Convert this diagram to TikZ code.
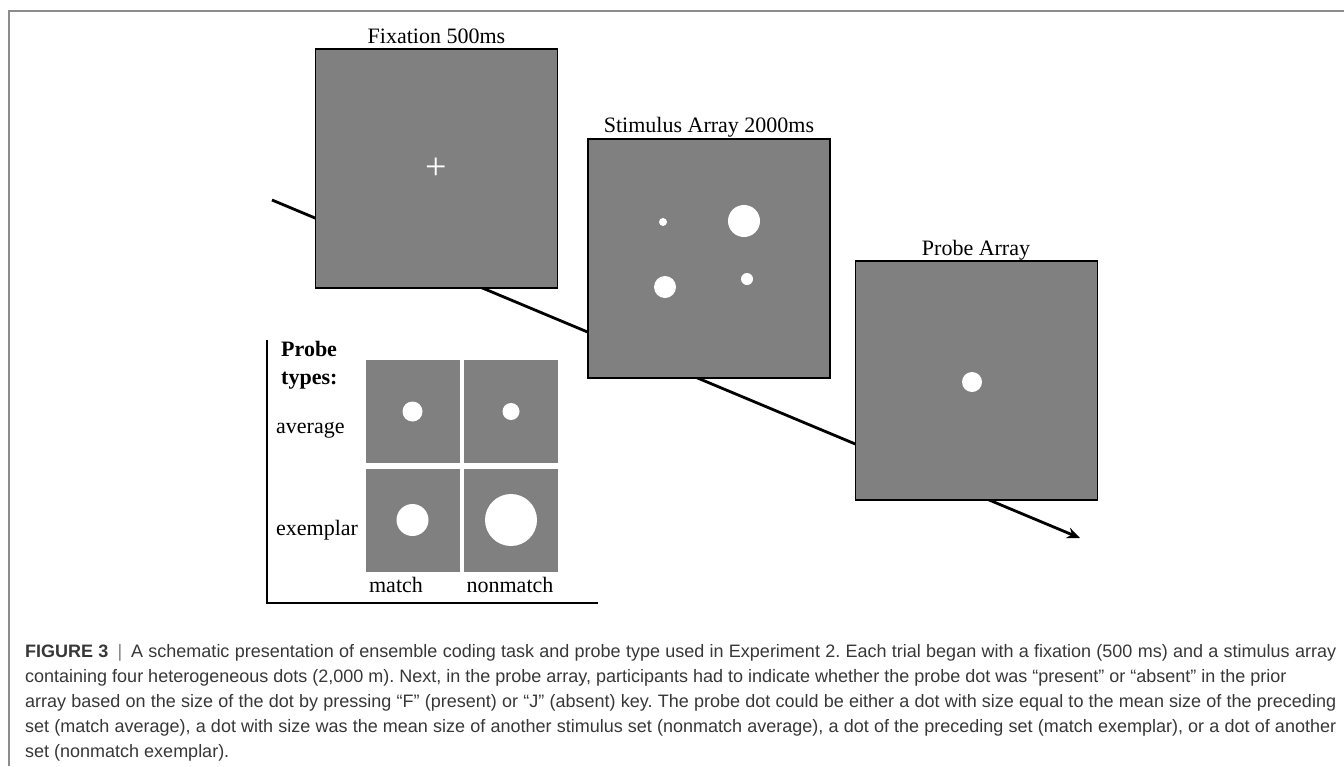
\documentclass[tikz,border=0pt]{standalone}
\usepackage{fontspec}
\setmainfont{Liberation Serif}
\newfontfamily\capfont{Liberation Sans}
\usepackage{tikz}
\usetikzlibrary{arrows.meta,positioning}
\usepackage{xcolor}
\definecolor{cScreen}{RGB}{128,128,128}
\definecolor{cFrame}{RGB}{140,140,140}
\definecolor{cCaption}{RGB}{55,55,55}
\hbadness=10000
\frenchspacing

\begin{document}
\begin{tikzpicture}[x=1pt,y=-1pt,
    screen/.style={rectangle,draw=black,line width=1.2pt,fill=cScreen,minimum width=242pt,minimum height=239pt,inner sep=0pt},
    probebox/.style={rectangle,fill=cScreen,minimum width=94pt,minimum height=103pt,inner sep=0pt},
    disc/.style={circle,fill=white,inner sep=0pt,minimum size=#1},
    lbl/.style={font=\fontsize{22}{28}\selectfont,inner sep=0pt},
    >=Stealth
  ]
  \useasboundingbox (0,0) rectangle (1344,766);
  \draw[cFrame,line width=1.2pt] (9,766) -- (9,11) -- (1344,11);

  % time line behind the screens
  \coordinate (tstart) at (272,200);
  \coordinate (tend) at (1080,538);
  \draw[-{Stealth[length=13pt,width=11pt]},line width=2.8pt] (tstart) -- (tend);

  \node[screen] (fix) at (436.5,168.5) {};
  \node[lbl,anchor=base] (fixtitle) at (436.5,43) {Fixation 500ms};
  \node[font=\fontsize{38}{38}\selectfont,text=white,inner sep=0pt] (fixcross) at (fix.center) {+};

  \node[screen] (stim) at (709,258.5) {};
  \node[lbl,anchor=base] (stimtitle) at (709,132) {Stimulus Array 2000ms};
  \node[disc=8pt]  (s1) at (663,222) {};
  \node[disc=32pt] (s2) at (744,221) {};
  \node[disc=22pt] (s3) at (665,287) {};
  \node[disc=12pt] (s4) at (747,279) {};

  \node[screen] (probe) at (976.5,380.5) {};
  \node[lbl,anchor=base] (probetitle) at (976,255) {Probe Array};
  \node[disc=20pt] (pdot) at (972,382) {};

  % probe types panel
  \coordinate (axtop) at (267,340);
  \coordinate (axcorner) at (267,603);
  \coordinate (axend) at (598,603);
  \draw[line width=2.2pt] (axtop) -- (axcorner) -- (axend);
  \node[lbl,font=\fontsize{22}{28}\selectfont\bfseries,align=left,anchor=north west] (ptitle) at (281,341) {Probe\\types:};

  \node[probebox] (avgm) at (412.5,411.5) {};
  \node[probebox] (avgn) at (511,411.5) {};
  \node[probebox] (exm)  at (412.5,520) {};
  \node[probebox] (exn)  at (511,520) {};
  \node[disc=20pt] (davgm) at (avgm) {};
  \node[disc=17pt] (davgn) at (avgn) {};
  \node[disc=32pt] (dexm)  at (exm) {};
  \node[disc=52pt] (dexn)  at (exn) {};

  \node[lbl,anchor=base west] (ravg) at (276,433) {average};
  \node[lbl,anchor=base west] (rex)  at (276,535) {exemplar};
  \node[lbl,anchor=base] (cmatch) at (396,592) {match};
  \node[lbl,anchor=base] (cnon)   at (510,592) {nonmatch};

  \node[anchor=base west,inner sep=0pt,text width=1311pt,align=justify,
        font=\capfont\fontsize{18}{25}\selectfont,text=cCaption] (caption) at (25,657)
    {\textbf{FIGURE 3}\enspace{\color{gray}|}\enspace A schematic presentation of ensemble coding task and probe type used in Experiment 2. Each trial began with a fixation (500 ms) and a stimulus array\linebreak
     containing four heterogeneous dots (2,000 m). Next, in the probe array, participants had to indicate whether the probe dot was “present” or “absent” in the prior\newline
     array based on the size of the dot by pressing “F” (present) or “J” (absent) key. The probe dot could be either a dot with size equal to the mean size of the preceding\linebreak
     set (match average), a dot with size was the mean size of another stimulus set (nonmatch average), a dot of the preceding set (match exemplar), or a dot of another\linebreak
     set (nonmatch exemplar).};
\end{tikzpicture}
\end{document}
